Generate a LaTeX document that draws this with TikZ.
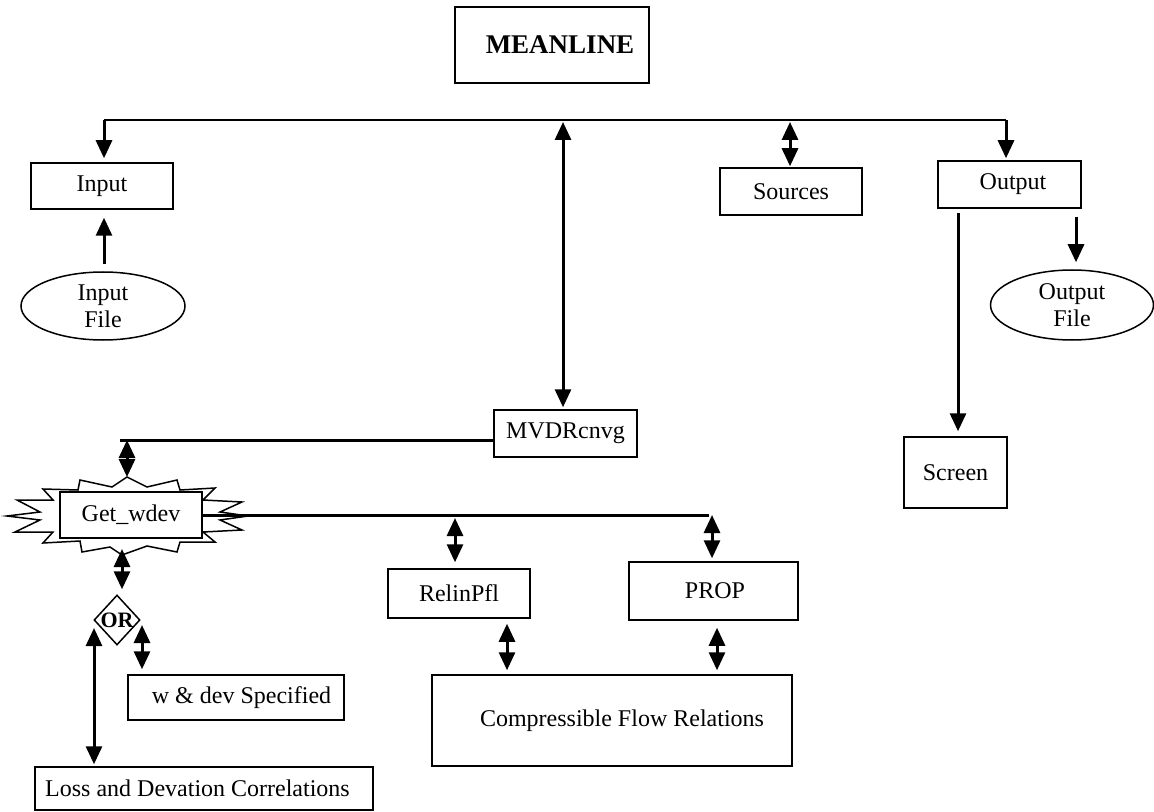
\documentclass[tikz,border=0pt]{standalone}
\usepackage{fontspec}
\setmainfont{Liberation Serif}
\usetikzlibrary{arrows.meta,shapes.geometric,calc}
\begin{document}
\begin{tikzpicture}[x=0.5pt,y=-0.5pt,
  box/.style={draw, line width=0.75pt, rectangle, inner sep=0pt, fill=white, font=\fontsize{12}{14}\selectfont},
  oval/.style={draw, line width=0.75pt, ellipse, inner sep=0pt, align=center, font=\fontsize{12}{13.5}\selectfont},
  arr/.style={line width=1.5pt, -{Triangle[width=8pt,length=9pt]}},
  darr/.style={line width=1.5pt, {Triangle[width=8pt,length=9pt]}-{Triangle[width=8pt,length=9pt]}},
  bus/.style={line width=0.7pt},
  thickbus/.style={line width=1.5pt},
  burst/.style={draw, line width=0.75pt, fill=white, line join=miter},
]
\useasboundingbox (0,0) rectangle (1154,812);

% nodes
\node[box, minimum width=97pt, minimum height=38pt, font=\fontsize{13.5}{15}\selectfont\bfseries] (meanline) at (552,45) {\hspace*{8pt}MEANLINE};
\node[box, minimum width=71pt, minimum height=23pt] (input) at (102,186) {Input};
\node[oval, minimum width=82pt, minimum height=34pt] (inputfile) at (103,306) {Input\\File};
\node[box, minimum width=71pt, minimum height=23.5pt] (sources) at (791,191.5) {Sources};
\node[box, minimum width=71.5pt, minimum height=23.5pt] (output) at (1009.5,184.5) {\hspace*{3.5pt}Output};
\node[oval, minimum width=81.5pt, minimum height=35pt] (outputfile) at (1072,305) {Output\\File};
\node[box, minimum width=51.5pt, minimum height=35.5pt] (screen) at (955.5,472.5) {Screen};
\node[box, minimum width=71.5pt, minimum height=23.5pt] (mvdr) at (565.5,433.5) {MVDRcnvg};

\draw[burst] (78,490) -- (80,480) -- (112,487) -- (127,477) -- (147,487) -- (177,480) -- (180,490)
  -- (215,488) -- (203,500) -- (242,502) -- (220,512) -- (248,516) -- (220,520) -- (242,530)
  -- (203,532) -- (215,542) -- (180,542) -- (177,552) -- (147,546) -- (122,555) -- (110,547)
  -- (82,552) -- (80,541) -- (43,543) -- (53,532) -- (15,532) -- (40,520) -- (7,516)
  -- (40,512) -- (17,500) -- (53,500) -- (43,489) -- cycle;
\node[box, minimum width=71pt, minimum height=23pt] (getwdev) at (131,515) {Get\_wdev};

\node[box, minimum width=71pt, minimum height=24.5pt] (relinpfl) at (459,593.5) {RelinPfl};
\node[box, minimum width=84.5pt, minimum height=29pt] (prop) at (713.5,591) {\hspace*{1.5pt}PROP};
\node[box, minimum width=180pt, minimum height=45.5pt] (cfr) at (612,720.5) {\hspace*{10pt}Compressible Flow Relations};
\node[diamond, draw, line width=0.75pt, fill=white, minimum width=23pt, minimum height=25pt, inner sep=0pt,
  label={[font=\fontsize{11}{12}\selectfont\bfseries]center:OR}] (or) at (117,620) {};
\node[box, minimum width=108pt, minimum height=22.5pt] (wdev) at (236,697.5) {\hspace*{5.5pt}w \& dev Specified};
\node[box, minimum width=169pt, minimum height=21.5pt] (loss) at (204,788.5) {Loss and Devation Correlations\hspace*{6.5pt}};

% coordinates
\coordinate (busL) at (104,120);
\coordinate (busM) at (563,120);
\coordinate (busS) at (790,120);
\coordinate (busR) at (1006,120);
\coordinate (scrX) at (958,0);
\coordinate (ofX) at (1076,0);
\coordinate (mvL) at (120,440);
\coordinate (burstN) at (127,477);
\coordinate (burstS) at (122,555);
\coordinate (lbR) at (709,515);
\coordinate (rpX) at (455,515);
\coordinate (ppX) at (712,515);
\coordinate (c1) at (507,0);
\coordinate (c2) at (717,0);
\coordinate (lX) at (94,0);
\coordinate (rX) at (142,0);

% top bus
\draw[bus] (busL) -- (busR);
\draw[arr] (busL) -- ([yshift=2pt]busL |- input.north);
\draw[arr] ([yshift=3.5pt]busL |- inputfile.north) -- ([yshift=-4pt]busL |- input.south);
\draw[darr] ([yshift=-1pt]busM) -- ([yshift=1pt]busM |- mvdr.north);
\draw[darr] ([yshift=-1pt]busS) -- ([yshift=0.5pt]busS |- sources.north);
\draw[arr] (busR) -- ([yshift=1pt]busR |- output.north);
\draw[arr] ([yshift=-2pt]scrX |- output.south) -- ([yshift=2.5pt]scrX |- screen.north);
\draw[arr] ([yshift=-4pt]ofX |- output.south) -- ([yshift=3.5pt]ofX |- outputfile.north);

% MVDRcnvg to Get_wdev
\draw[thickbus] (mvdr.west |- mvL) -- (mvL);
\draw[darr] (burstN |- mvL) -- (burstN);

% lower bus
\draw[thickbus] (getwdev.east) -- (lbR);
\draw[darr] ([yshift=-1.5pt]rpX) -- ([yshift=3pt]rpX |- relinpfl.north);
\draw[darr] (ppX) -- ([yshift=1.5pt]ppX |- prop.north);
\draw[darr] ([yshift=-2.5pt]c1 |- relinpfl.south) -- ([yshift=2pt]c1 |- cfr.north);
\draw[darr] ([yshift=-3.5pt]c2 |- prop.south) -- ([yshift=2pt]c2 |- cfr.north);

% OR branch
\draw[darr] ([yshift=3pt]burstS) -- ([yshift=2.5pt]burstS |- or.north);
\draw[darr] ([yshift=-4pt]lX |- or.west) -- ([yshift=1pt]lX |- loss.north);
\draw[darr] ([yshift=-2.5pt]rX |- or.east) -- ([yshift=2.5pt]rX |- wdev.north);
\end{tikzpicture}
\end{document}
